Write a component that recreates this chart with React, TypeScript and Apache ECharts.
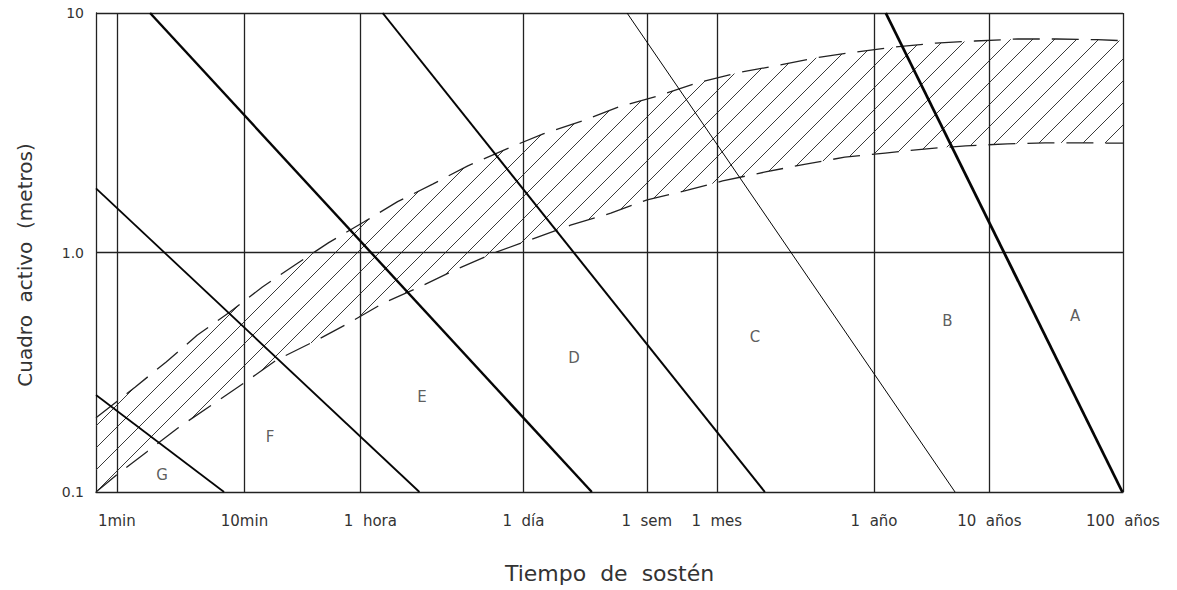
import { useEffect, useRef } from "react";
import * as echarts from "echarts";

// Abscissa: position along the holding-time scale (one unit ≈ one decade, 0 at "1min").
const xMin = -0.16;
const xMax = 7.74;
const tickPos = [0, 0.982, 1.866, 3.128, 4.077, 4.615, 5.825, 6.712, 7.74];
const tickLabels = ["1min", "10min", "1  hora", "1  día", "1  sem", "1  mes", "1  año", "10  años", "100  años"];

// Ordinate: active span in metres (log scale).
const yTickValues = [0.1, 1, 10];
const yTickLabels = ["0.1", "1.0", "10"];

// Upper and lower limits of the hatched band.
const bandUpper: [number, number][] = [
  [-0.16, 0.204], [0.14, 0.274], [0.38, 0.349], [0.62, 0.452], [0.87, 0.564],
  [1.12, 0.718], [1.37, 0.887], [1.63, 1.1], [1.9, 1.34], [2.16, 1.63],
  [2.43, 1.93], [2.7, 2.3], [3.0, 2.71], [3.28, 3.13], [3.58, 3.54],
  [3.86, 4.05], [4.16, 4.5], [4.46, 5.1], [4.77, 5.62], [5.06, 6.01],
  [5.37, 6.49], [5.68, 6.87], [5.99, 7.21], [6.3, 7.49], [6.6, 7.64],
  [6.93, 7.79], [7.23, 7.79], [7.54, 7.74], [7.74, 7.66],
];
const bandLower: [number, number][] = [
  [-0.16, 0.1], [0.0, 0.118], [0.23, 0.147], [0.47, 0.185], [0.73, 0.231],
  [0.99, 0.288], [1.23, 0.356], [1.54, 0.431], [1.8, 0.513], [2.05, 0.615],
  [2.33, 0.718], [2.6, 0.845], [2.9, 0.995], [3.18, 1.13], [3.49, 1.3],
  [3.8, 1.46], [4.08, 1.66], [4.39, 1.82], [4.66, 1.99], [4.99, 2.17],
  [5.3, 2.34], [5.6, 2.5], [5.91, 2.6], [6.23, 2.71], [6.53, 2.79],
  [6.85, 2.84], [7.14, 2.87], [7.46, 2.87], [7.74, 2.86],
];

// Straight limits between the rock-mass classes (each one bounds the class on its left).
const limitG: [number, number][] = [[-0.16, 0.254], [0.825, 0.1]];
const limitF: [number, number][] = [[-0.16, 1.854], [2.328, 0.1]];
const limitE: [number, number][] = [[0.256, 10], [3.654, 0.1]];
const limitD: [number, number][] = [[2.045, 10], [4.985, 0.1]];
const limitC: [number, number][] = [[3.925, 10], [6.448, 0.1]];
const limitB: [number, number][] = [[5.915, 10], [7.735, 0.1]];

// Class letters and where they sit.
const classNames = ["G", "F", "E", "D", "C", "B", "A"];
const classPos: [number, number][] = [
  [0.348, 0.118], [1.179, 0.17], [2.348, 0.249], [3.518, 0.3626],
  [4.91, 0.4438], [6.39, 0.5176], [7.372, 0.543],
];

const FONT = '"DejaVu Sans", sans-serif';
const INK = "#333";
const HATCH_STEP = 22;

function labelForTick(v: number): string {
  let best = 0;
  for (let i = 1; i < tickPos.length; i++) {
    if (Math.abs(tickPos[i] - v) < Math.abs(tickPos[best] - v)) best = i;
  }
  const txt = tickLabels[best];
  return best === 2 ? `{s|${txt}}` : txt;
}

function labelForY(v: number): string {
  let best = 0;
  for (let i = 1; i < yTickValues.length; i++) {
    if (Math.abs(Math.log10(yTickValues[i]) - Math.log10(v)) < Math.abs(Math.log10(yTickValues[best]) - Math.log10(v))) best = i;
  }
  return yTickLabels[best];
}

function renderHatch(params: any, api: any) {
  const cs = params.coordSys;
  const top = bandUpper.map((p) => api.coord(p));
  const bot = bandLower.map((p) => api.coord(p));
  const poly = top.concat(bot.slice().reverse());
  const sums = poly.map((p: number[]) => p[0] + p[1]);
  const cMin = Math.min(...sums);
  const cMax = Math.max(...sums);
  const c0 = cs.x + cs.y + cs.height;
  const kMin = Math.ceil((cMin - c0) / HATCH_STEP);
  const kMax = Math.floor((cMax - c0) / HATCH_STEP);
  const children: any[] = [];
  for (let k = kMin; k <= kMax; k++) {
    const c = c0 + k * HATCH_STEP;
    const hits: number[][] = [];
    for (let i = 0; i < poly.length; i++) {
      const p = poly[i];
      const q = poly[(i + 1) % poly.length];
      const fp = p[0] + p[1] - c;
      const fq = q[0] + q[1] - c;
      if (fp < 0 !== fq < 0) {
        const t = fp / (fp - fq);
        hits.push([p[0] + t * (q[0] - p[0]), p[1] + t * (q[1] - p[1])]);
      }
    }
    hits.sort((a, b) => a[0] - b[0]);
    for (let j = 0; j + 1 < hits.length; j += 2) {
      children.push({
        type: "line",
        shape: { x1: hits[j][0], y1: hits[j][1], x2: hits[j + 1][0], y2: hits[j + 1][1] },
        style: { stroke: "#3a3a3a", lineWidth: 1 },
      });
    }
  }
  return { type: "group", children };
}

function limitSeries(name: string, data: [number, number][], width: number) {
  return {
    name,
    type: "line",
    data,
    symbol: "none",
    silent: true,
    z: 5,
    lineStyle: { color: "#050505", width, type: "solid" },
  };
}

function bandSeries(name: string, data: [number, number][]) {
  return {
    name,
    type: "line",
    data,
    symbol: "none",
    silent: true,
    z: 4,
    lineStyle: { color: "#222", width: 1.3, type: [27, 12] },
  };
}

export default function App() {
  const ref = useRef<HTMLDivElement>(null);

  useEffect(() => {
    if (!ref.current) return;
    const chart = echarts.init(ref.current, undefined, { renderer: "svg" });
    const option: any = {
      animation: false,
      backgroundColor: "#fff",
      grid: { left: 96, right: 54, top: 13, bottom: 98, containLabel: false },
      xAxis: {
        type: "value",
        min: xMin,
        max: xMax,
        axisLine: { show: true, onZero: false, lineStyle: { color: "#222", width: 1.3 } },
        axisTick: { show: false },
        splitLine: { show: false },
        axisLabel: {
          customValues: tickPos,
          formatter: (v: number) => labelForTick(v),
          margin: 21,
          color: INK,
          fontSize: 15,
          fontFamily: FONT,
          rich: { s: { padding: [0, 0, 0, 22], color: INK, fontSize: 15, fontFamily: FONT } },
        },
        name: "Tiempo  de  sostén",
        nameLocation: "middle",
        nameGap: 70,
        nameTextStyle: { color: INK, fontSize: 22, fontFamily: FONT },
      },
      yAxis: {
        type: "log",
        logBase: 10,
        min: 0.1,
        max: 10,
        axisLine: { show: true, onZero: false, lineStyle: { color: "#222", width: 1.3 } },
        axisTick: { show: false },
        splitLine: { show: false },
        minorTick: { show: false },
        minorSplitLine: { show: false },
        axisLabel: {
          formatter: (v: number) => labelForY(v),
          margin: 12,
          color: INK,
          fontSize: 14,
          fontFamily: FONT,
        },
      },
      graphic: [
        {
          type: "text",
          x: 25,
          y: 265,
          rotation: Math.PI / 2,
          style: {
            text: "Cuadro  activo  (metros)",
            align: "center",
            verticalAlign: "middle",
            fill: INK,
            font: `20px ${FONT}`,
          },
        },
      ],
      series: [
        {
          name: "rayado",
          type: "custom",
          silent: true,
          z: 1,
          data: [[0, 1]],
          renderItem: renderHatch,
        },
        {
          name: "rejilla",
          type: "line",
          data: [],
          silent: true,
          z: 3,
          markLine: {
            silent: true,
            symbol: ["none", "none"],
            label: { show: false },
            lineStyle: { type: "solid", color: "#222", width: 1.3 },
            data: [
              ...tickPos.map((v) => ({ xAxis: v })),
              { yAxis: 1 },
              { yAxis: 10 },
            ],
          },
        },
        bandSeries("límite superior", bandUpper),
        bandSeries("límite inferior", bandLower),
        limitSeries("G", limitG, 1.7),
        limitSeries("F", limitF, 1.8),
        limitSeries("E", limitE, 2.4),
        limitSeries("D", limitD, 2.0),
        limitSeries("C", limitC, 1.0),
        limitSeries("B", limitB, 2.8),
        {
          name: "clases",
          type: "scatter",
          data: classPos,
          symbolSize: 1,
          silent: true,
          z: 6,
          itemStyle: { color: "rgba(0,0,0,0)" },
          label: {
            show: true,
            position: "inside",
            formatter: (p: any) => classNames[p.dataIndex],
            color: INK,
            fontSize: 15,
            fontFamily: FONT,
          },
        },
      ],
    };
    chart.setOption(option);
    return () => chart.dispose();
  }, []);

  return (
    <div
      ref={ref}
      style={{ position: "fixed", left: 0, top: 0, width: 1177, height: 590, background: "#fff" }}
    />
  );
}
